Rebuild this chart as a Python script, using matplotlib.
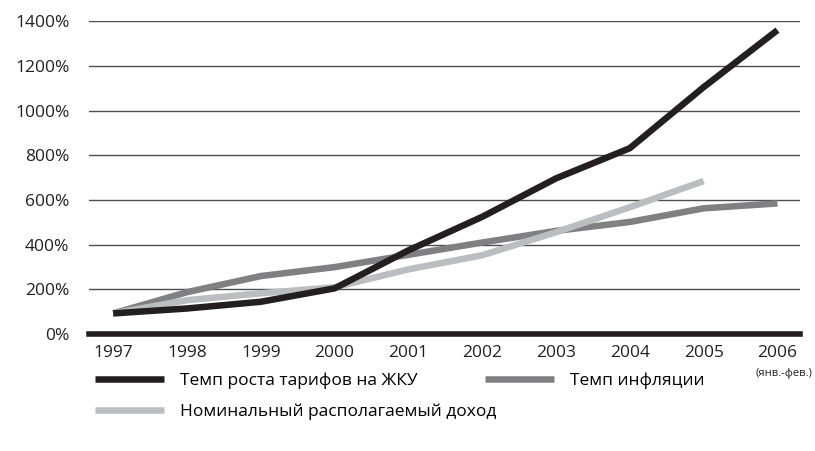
import matplotlib.pyplot as plt
from matplotlib.ticker import FuncFormatter

years = ["1997", "1998", "1999", "2000", "2001", "2002", "2003", "2004", "2005", "2006"]
tariffs = [93, 115, 145, 205, 375, 525, 697, 832, 1105, 1360]
inflation = [93, 188, 260, 300, 355, 410, 462, 502, 563, 585]
income = [93, 152, 183, 210, 290, 353, 456, 568, 685]

plt.rcParams['font.family'] = ['Open Sans', 'DejaVu Sans']

fig = plt.figure(figsize=(8.15, 4.51), dpi=100)
ax = fig.add_axes([0.109, 0.259, 0.873, 0.694])

x = list(range(len(years)))
l1, = ax.plot(x, tariffs, color='#231f20', lw=4.7, solid_capstyle='butt', zorder=4,
              label='Темп роста тарифов на ЖКУ')
l2, = ax.plot(x, inflation, color='#808083', lw=4.7, solid_capstyle='butt', zorder=3,
              label='Темп инфляции')
l3, = ax.plot(x[:len(income)], income, color='#bcbdc0', lw=4.7, solid_capstyle='butt', zorder=3,
              label='Номинальный располагаемый доход')

ax.set_ylim(0, 1400)
ax.set_xlim(-0.33, 9.31)
ax.set_yticks(range(0, 1401, 200))
ax.yaxis.set_major_formatter(FuncFormatter(lambda v, p: f"{int(v)}%"))
ax.set_xticks(x)
ax.set_xticklabels(years)
ax.tick_params(length=0, labelsize=12.5, colors='#231f20')
ax.tick_params(axis='y', pad=14)
ax.tick_params(axis='x', pad=8)
for s in ax.spines.values():
    s.set_visible(False)
ax.grid(axis='y', color='#4d4d4f', lw=1)
ax.axhline(0, color='#231f20', lw=4, zorder=5, clip_on=False)

# подпись под 2006
fig.text(0.997, 0.171, '(янв.-фев.)', ha='right', va='center', fontsize=8, color='#231f20')

fig.legend(handles=[l1, l2], ncol=2, loc='center left', bbox_to_anchor=(0.1166, 0.155),
           frameon=False, fontsize=12.5, handlelength=4.0, handletextpad=0.92,
           columnspacing=3.85, borderpad=0, borderaxespad=0)
fig.legend(handles=[l3], loc='center left', bbox_to_anchor=(0.1166, 0.087),
           frameon=False, fontsize=12.5, handlelength=4.0, handletextpad=0.92,
           borderpad=0, borderaxespad=0)

fig.savefig('out.png', dpi=100)
